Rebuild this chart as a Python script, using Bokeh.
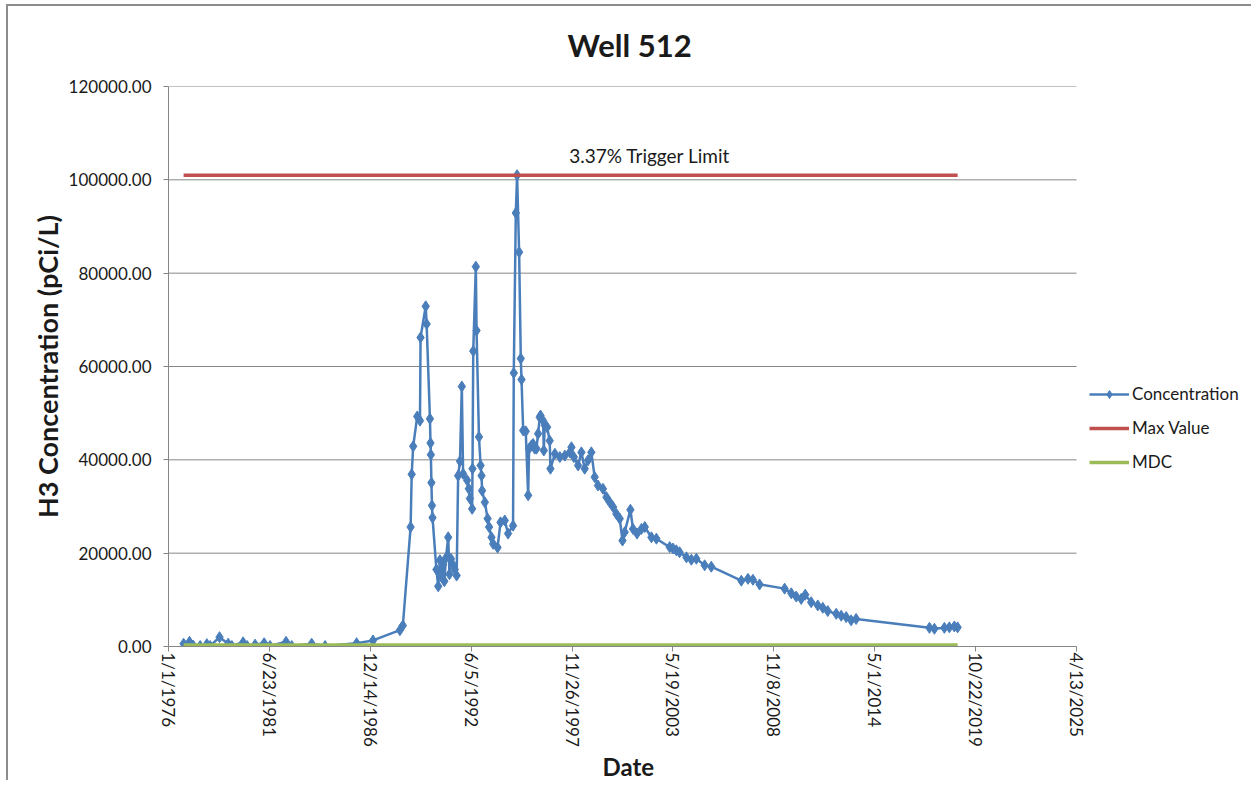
import math
from bokeh.plotting import figure
from bokeh.models import (ColumnDataSource, FixedTicker, NumeralTickFormatter,
                          Legend, LegendItem, Label, Range1d, Title)
from bokeh.embed import file_html
from bokeh.resources import INLINE

# ---------------- data ----------------
chart_title = "Well 512"
y_axis_title = "H3 Concentration (pCi/L)"
x_axis_title = "Date"
trigger_text = "3.37% Trigger Limit"

# sample dates as decimal years
conc_year = [
    1976.82, 1977.14, 1977.34, 1977.72, 1978.08, 1978.26, 1978.77, 1979.24, 1979.44, 1980.05,
    1980.27, 1980.70, 1981.19, 1981.51, 1982.38, 1982.69, 1983.77, 1984.50, 1986.21, 1987.10,
    1988.56, 1988.72,
    1989.14, 1989.20, 1989.28, 1989.50, 1989.65, 1989.68, 1989.96, 1990.01, 1990.19, 1990.22,
    1990.24, 1990.27, 1990.30, 1990.33,
    1990.54, 1990.64, 1990.73, 1990.81, 1990.89, 1990.97, 1991.06, 1991.18, 1991.25, 1991.33,
    1991.44, 1991.54, 1991.64,
    1991.72, 1991.82, 1991.92, 1991.99, 1992.21, 1992.30, 1992.36, 1992.48, 1992.50, 1992.54,
    1992.68, 1992.72, 1992.85, 1992.94, 1992.99, 1993.02, 1993.17, 1993.32, 1993.40, 1993.53,
    1993.62, 1993.86, 1994.02, 1994.25, 1994.43, 1994.70, 1994.74, 1994.85, 1994.92, 1995.03,
    1995.12, 1995.16, 1995.25, 1995.39, 1995.52, 1995.57, 1995.70, 1995.79, 1995.88, 1995.97,
    1996.06, 1996.15, 1996.19, 1996.33, 1996.37, 1996.42, 1996.55, 1996.69, 1996.73, 1996.97,
    1997.24, 1997.51, 1997.78, 1997.87, 1998.00, 1998.23, 1998.41, 1998.59, 1998.77, 1998.95,
    1999.13, 1999.31, 1999.58, 1999.77, 1999.95, 2000.13, 2000.31, 2000.49, 2000.64, 2000.76,
    2001.07, 2001.21, 2001.43, 2001.67, 2001.85, 2002.21, 2002.48, 2003.20, 2003.38, 2003.56,
    2003.74, 2004.11, 2004.38, 2004.65, 2005.10, 2005.46, 2007.09, 2007.45, 2007.72, 2008.08,
    2009.44, 2009.80, 2010.07, 2010.34, 2010.56, 2010.88, 2011.24, 2011.51, 2011.78, 2012.24,
    2012.51, 2012.78, 2013.05, 2013.32, 2017.30, 2017.57, 2018.11, 2018.38, 2018.65, 2018.83,
]
conc_value = [
    600, 1000, 200, 100, 500, 100, 2000, 600, 100, 900,
    100, 400, 700, 100, 1000, 100, 600, 100, 700, 1300,
    3500, 4500,
    25600, 36900, 42900, 49300, 48400, 66200, 72900, 69100, 48800, 43600,
    41100, 35100, 30200, 27600,
    16500, 12900, 18500, 15000, 17500, 14000, 19000, 23400, 15500, 18800,
    17500, 16500, 15200,
    36600, 39700, 55700, 37000, 35600, 33800, 31700, 29500, 38100, 63300,
    81400, 67700, 44900, 38800, 36600, 33400, 30900, 27400, 25600, 23400,
    22000, 21200, 26600, 27000, 24200, 25900, 58600, 92900, 101000, 84500,
    61700, 57200, 46300, 46100, 32400, 42400, 43100, 43400, 42400, 42400,
    45600, 49100, 49500, 48400, 42000, 47400, 47000, 44100, 38100, 41300,
    40600, 40900, 41600, 42700, 40600, 38800, 41600, 38100, 39900, 41600,
    36300, 34500, 33800, 32000, 30900, 29900, 28400, 27400, 22700, 24500,
    29300, 25200, 24200, 25200, 25600, 23400, 23100, 21300, 21000, 20600,
    20200, 19100, 18600, 18800, 17400, 17100, 14100, 14500, 14300, 13300,
    12400, 11400, 10700, 10200, 11100, 9500, 8800, 8300, 7600, 7000,
    6600, 6300, 5600, 5900, 4000, 3800, 4000, 4100, 4300, 4100,
]
max_value = 101000
mdc_value = 300
trigger_label_year = 2002.12

series_names = ["Concentration", "Max Value", "MDC"]
series_colors = ["#4A7EBB", "#C0504D", "#9BBB59"]

x_tick_serials = [27760, 29760, 31760, 33760, 35760, 37760, 39760, 41760, 43760, 45760]
x_tick_labels = ["1/1/1976", "6/23/1981", "12/14/1986", "6/5/1992", "11/26/1997",
                 "5/19/2003", "11/8/2008", "5/1/2014", "10/22/2019", "4/13/2025"]
y_ticks = [0, 20000, 40000, 60000, 80000, 100000, 120000]

EXCEL_1976 = 27760  # Excel serial of 1/1/1976


def to_serial(yr):
    return EXCEL_1976 + (yr - 1976.0) * 365.25


FONT = "Lato"
TXT = "#1a1a1a"
GRID = "#868686"

# layout: the plotting area is 908 px wide; the canvas continues to the right
# edge so that the legend (drawn in the frame) is not clipped.
W, H = 1251, 780
LEFT, TOP, BOTTOM = 168, 86, 134
AXIS_PX = 908
x0, x1 = x_tick_serials[0], x_tick_serials[-1]
x_end = x0 + (W - LEFT) * (x1 - x0) / AXIS_PX

# ---------------- figure ----------------
p = figure(width=W, height=H, output_backend="svg", toolbar_location=None,
           x_range=Range1d(x0, x_end),
           y_range=Range1d(y_ticks[0], y_ticks[-1]),
           min_border_left=LEFT, min_border_right=0,
           min_border_top=TOP, min_border_bottom=BOTTOM,
           styles={"background-color": "white",
                   "box-shadow": "inset 6px 4px 0 0 white, inset 8px 6px 0 0 #8c8c8c"})
p.background_fill_color = "white"
p.border_fill_alpha = 0
p.outline_line_color = None

p.title.text = chart_title
p.title.align = "left"
p.title.offset = 399
p.title.text_font = FONT
p.title.text_font_size = "31px"
p.title.text_font_style = "bold"
p.title.text_color = TXT
p.title.standoff = 46

# horizontal gridlines limited to the axis extent
p.segment(x0=[x0] * len(y_ticks), x1=[x1] * len(y_ticks), y0=y_ticks, y1=y_ticks,
          line_color=GRID, line_width=1, level="underlay")

xs = [to_serial(v) for v in conc_year]
src = ColumnDataSource(dict(x=xs, y=conc_value))
line_r = p.line("x", "y", source=src, line_color=series_colors[0], line_width=2.5)
pts_r = p.scatter("x", "y", source=src, marker="diamond", size=11,
                  fill_color=series_colors[0], line_color=series_colors[0])

x_span = [xs[0], xs[-1]]
max_r = p.line(x_span, [max_value, max_value], line_color=series_colors[1], line_width=3.5)
mdc_r = p.line(x_span, [mdc_value, mdc_value], line_color=series_colors[2], line_width=3.5)

p.add_layout(Label(x=to_serial(trigger_label_year), y=max_value, text=trigger_text,
                   text_align="center", text_baseline="bottom", y_offset=8,
                   text_font=FONT, text_font_size="19px", text_color=TXT))

# axes
for ax in (p.xaxis[0], p.yaxis[0]):
    ax.axis_line_color = GRID
    ax.major_tick_line_color = GRID
    ax.major_tick_in = 0
    ax.major_tick_out = 5
    ax.minor_tick_line_color = None
    ax.major_label_text_font = FONT
    ax.major_label_text_font_size = "17px"
    ax.major_label_text_color = TXT
    ax.axis_label_text_font = FONT
    ax.axis_label_text_font_style = "bold"
    ax.axis_label_text_color = TXT

p.yaxis.ticker = FixedTicker(ticks=y_ticks)
p.yaxis.formatter = NumeralTickFormatter(format="0.00")
p.yaxis.axis_label = y_axis_title
p.yaxis.axis_label_text_font_size = "27px"
p.yaxis.major_label_standoff = 12
p.yaxis.axis_label_standoff = 2

p.xaxis.ticker = FixedTicker(ticks=x_tick_serials)
p.xaxis.bounds = (x0, x1)
p.xaxis.major_label_overrides = {t: l for t, l in zip(x_tick_serials, x_tick_labels)}
p.xaxis.major_label_orientation = -math.pi / 2
p.xaxis.major_label_standoff = 1

# x-axis title, centred under the axis extent (not under the wider canvas)
p.add_layout(Title(text=x_axis_title, align="left", offset=434, standoff=0,
                   text_font=FONT, text_font_size="24px", text_font_style="bold",
                   text_color=TXT), "below")

p.xgrid.visible = False
p.ygrid.visible = False

legend = Legend(items=[
    LegendItem(label=series_names[0], renderers=[line_r, pts_r]),
    LegendItem(label=series_names[1], renderers=[max_r]),
    LegendItem(label=series_names[2], renderers=[mdc_r]),
], location=(921, 174))
legend.border_line_color = None
legend.background_fill_alpha = 0
legend.padding = 0
legend.margin = 0
legend.spacing = 13
legend.label_height = 20
legend.glyph_height = 20
legend.glyph_width = 40
legend.label_standoff = 3
legend.label_text_font = FONT
legend.label_text_font_size = "17px"
legend.label_text_color = TXT
p.add_layout(legend, "center")

open("out.html", "w").write(file_html(p, INLINE))
